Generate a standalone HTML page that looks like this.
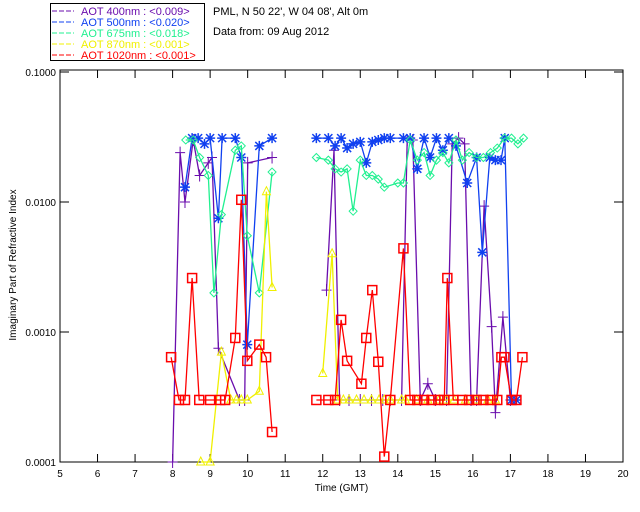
<!DOCTYPE html>
<html><head><meta charset="utf-8"><style>
body{margin:0;background:#fff;}
svg{display:block;font-family:"Liberation Sans",sans-serif;}
</style></head><body>
<svg id="c" width="640" height="512"></svg>
<script>
const times400=[8.0,8.2,8.33,8.55,8.72,8.95,9.05,9.22,9.78,9.92,10.0,10.65,null,12.1,12.3,12.45,12.7,13.0,13.3,13.6,13.8,14.1,14.25,14.4,14.6,14.8,15.0,15.3,15.45,15.62,15.78,15.95,16.1,16.3,16.5,16.6,16.8,17.0];
const vals400=[0.0001,0.024,0.010,0.03,0.016,0.02,0.022,0.00075,0.0003,0.0003,0.02,0.022,null,0.0021,0.025,0.0003,0.0003,0.0003,0.0003,0.0003,0.0003,0.0003,0.03,0.03,0.0003,0.0004,0.0003,0.0003,0.028,0.031,0.028,0.0003,0.0003,0.0093,0.0011,0.00024,0.0013,0.0003];
const times500=[8.33,8.52,8.68,8.85,9.0,9.22,9.32,9.67,9.83,9.99,10.31,10.65,null,11.83,12.15,12.33,12.49,12.65,12.81,13.0,13.16,13.32,13.48,13.64,13.8,14.15,14.33,14.52,14.7,14.86,15.03,15.2,15.36,15.55,15.85,16.1,16.25,16.45,16.6,16.75,16.85,17.03,17.16];
const vals500=[0.013,0.031,0.031,0.028,0.031,0.0075,0.031,0.031,0.022,0.0008,0.027,0.031,null,0.031,0.031,0.027,0.031,0.026,0.028,0.029,0.02,0.029,0.03,0.031,0.031,0.031,0.031,0.018,0.031,0.022,0.031,0.025,0.031,0.027,0.014,0.022,0.0041,0.022,0.021,0.021,0.031,0.0003,0.0003];
const times675=[8.35,8.55,8.72,8.95,9.1,9.3,9.67,9.83,9.99,10.31,10.65,null,11.83,12.15,12.33,12.49,12.65,12.81,13.0,13.16,13.32,13.48,13.64,14.0,14.15,14.33,14.52,14.7,14.86,15.03,15.2,15.36,15.55,15.72,15.9,16.1,16.28,16.47,16.65,16.84,17.03,17.2,17.35];
const vals675=[0.03,0.03,0.022,0.016,0.002,0.008,0.025,0.027,0.0055,0.002,0.017,null,0.022,0.021,0.018,0.017,0.018,0.0085,0.021,0.016,0.016,0.015,0.013,0.014,0.014,0.03,0.021,0.024,0.016,0.021,0.024,0.02,0.03,0.021,0.024,0.022,0.022,0.024,0.026,0.031,0.031,0.028,0.031];
const times870=[8.75,9.0,9.3,9.55,9.7,9.83,9.99,10.31,10.5,10.65,null,12.0,12.25,12.4,12.55,12.7,12.9,13.1,13.3,13.5,13.64,13.8,14.1,14.2,14.5,14.8,15.1,15.3,15.5,15.8,16.1,16.4,16.6];
const vals870=[0.0001,0.0001,0.0007,0.0003,0.0003,0.0003,0.0003,0.00035,0.012,0.0022,null,0.00048,0.004,0.0003,0.0003,0.0003,0.0003,0.0003,0.0003,0.0003,0.0003,0.0003,0.0003,0.0003,0.0003,0.0003,0.0003,0.0003,0.0003,0.0003,0.0003,0.0003,0.0003];
const times1020=[7.96,8.17,8.33,8.52,8.71,9.0,9.27,9.4,9.67,9.83,9.99,10.31,10.49,10.65,null,11.83,12.15,12.33,12.49,12.65,13.03,13.16,13.32,13.48,13.64,13.8,14.15,14.33,14.52,14.7,14.9,15.08,15.24,15.32,15.48,15.72,15.9,16.1,16.28,16.47,16.65,16.76,16.84,17.03,17.16,17.32];
const vals1020=[0.00064,0.0003,0.0003,0.0026,0.0003,0.0003,0.0003,0.0003,0.0009,0.0104,0.0006,0.0008,0.00064,0.00017,null,0.0003,0.0003,0.0003,0.00124,0.0006,0.0004,0.0009,0.0021,0.00059,0.00011,0.0003,0.0044,0.0003,0.0003,0.0003,0.0003,0.0003,0.0003,0.0026,0.0003,0.0003,0.0003,0.0003,0.0003,0.0003,0.0003,0.00064,0.00064,0.0003,0.0003,0.00064];
const xTicks=[5,6,7,8,9,10,11,12,13,14,15,16,17,18,19,20];
const yTicks=[0.1,0.01,0.001,0.0001];
const yTickLabels=["0.1000","0.0100","0.0010","0.0001"];

const L=60,R=623,T=72,B=462;
const xs=t=>L+(t-5)/(20-5)*(R-L);
const ys=v=>T+(-1-Math.log10(v))/3*(B-T);
const svg=document.getElementById('c');
const NS="http://www.w3.org/2000/svg";
function mk(tag,attrs,parent){const e=document.createElementNS(NS,tag);for(const k in attrs)e.setAttribute(k,attrs[k]);(parent||svg).appendChild(e);return e;}

const frame=mk('rect',{x:L,y:T-2,width:R-L,height:B-T+2,fill:'none',stroke:'#000','stroke-width':1});


xTicks.forEach(t=>{
  const x=xs(t);
  mk('line',{x1:x,x2:x,y1:B,y2:B-8,stroke:'#000'});
  mk('line',{x1:x,x2:x,y1:T-2,y2:T+6,stroke:'#000'});
  const tx=mk('text',{x:x,y:B+15,'font-size':10,'text-anchor':'middle'});
  tx.textContent=t;
  
  
});
yTicks.forEach((v,i)=>{
  const y=ys(v);
  mk('line',{x1:L,x2:L+9,y1:y,y2:y,stroke:'#000'});
  mk('line',{x1:R-9,x2:R,y1:y,y2:y,stroke:'#000'});
  const tx=mk('text',{x:L-4,y:y+4,'font-size':10,'text-anchor':'end'});
  tx.textContent=yTickLabels[i];
  
  
});
const xt=mk('text',{x:(L+R)/2,y:B+29,'font-size':10,'text-anchor':'middle'});xt.textContent='Time (GMT)';


const yt=mk('text',{x:0,y:0,'font-size':10,'text-anchor':'middle',transform:`translate(16,265) rotate(-90)`});yt.textContent='Imaginary Part of Refractive Index';



function marker(g,type,x,y,col){
  if(type==='plus'){mk('path',{d:`M${x-5} ${y}H${x+5}M${x} ${y-6}V${y+6}`,stroke:col,fill:'none'},g);}
  else if(type==='star'){mk('path',{d:`M${x-5} ${y}H${x+5}M${x} ${y-5}V${y+5}M${x-4} ${y-4}L${x+4} ${y+4}M${x-4} ${y+4}L${x+4} ${y-4}`,stroke:col,fill:'none','stroke-width':1.5},g);}
  else if(type==='diamond'){mk('path',{d:`M${x} ${y-4}L${x+4} ${y}L${x} ${y+4}L${x-4} ${y}Z`,stroke:col,fill:'none'},g);}
  else if(type==='tri'){mk('path',{d:`M${x} ${y-5}L${x+4} ${y+3}L${x-4} ${y+3}Z`,stroke:col,fill:'none'},g);}
  else if(type==='square'){mk('rect',{x:x-4.5,y:y-4.5,width:9,height:9,stroke:col,fill:'none','stroke-width':1.5},g);}
}
function series(name,times,vals,col,type){
  const g=mk('g',{});
  
  
  let d='',pen=false;
  times.forEach((t,i)=>{
    if(t===null||vals[i]===null){pen=false;return;}
    const y=Math.min(ys(vals[i]),B);
    d+=(pen?'L':'M')+xs(t).toFixed(1)+' '+y.toFixed(1);pen=true;
  });
  mk('path',{d:d,stroke:col,fill:'none','stroke-width':1.3},g);
  times.forEach((t,i)=>{
    if(t===null||vals[i]===null)return;
    const y=ys(vals[i]);if(y>B)return;
    marker(g,type,xs(t),y,col);
  });
}
series('series-400nm',times400,vals400,'#6a0dad','plus');
series('series-500nm',times500,vals500,'#1040f0','star');
series('series-675nm',times675,vals675,'#20f090','diamond');
series('series-870nm',times870,vals870,'#f0f000','tri');
series('series-1020nm',times1020,vals1020,'#ff0000','square');

const lg=mk('g',{});


mk('rect',{x:50.5,y:3.5,width:154,height:57,fill:'#fff',stroke:'#000'},lg);
const leg=[['AOT  400nm : <0.009>','#6a0dad'],['AOT  500nm : <0.020>','#1040f0'],['AOT  675nm : <0.018>','#20f090'],['AOT  870nm : <0.001>','#f0f000'],['AOT 1020nm : <0.001>','#ff0000']];
leg.forEach((e,i)=>{
  const y=11+i*11;
  mk('line',{x1:52,x2:74,y1:y,y2:y,stroke:e[1],'stroke-dasharray':'5,2'},lg);
  const t=mk('text',{x:81,y:y+4,'font-size':11,fill:e[1],'xml:space':'preserve'},lg);
  t.textContent=e[0];
  
  
});
const s1=mk('text',{x:213,y:15,'font-size':11});s1.textContent="PML, N 50 22', W 04 08', Alt 0m";


const s2=mk('text',{x:213,y:35,'font-size':11});s2.textContent="Data from: 09 Aug 2012";


</script>
</body></html>
